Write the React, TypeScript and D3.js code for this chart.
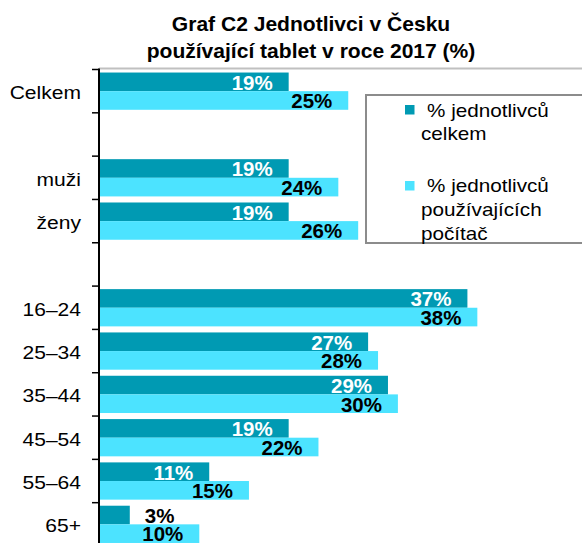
import React from 'react';
import * as d3 from 'd3';

// categories (blank entries are the gaps between the groups)
const categories = ['Celkem', '', 'muži', 'ženy', ' ', '16–24', '25–34', '35–44', '45–54', '55–64', '65+'];
const celkem = [19, null, 19, 19, null, 37, 27, 29, 19, 11, 3];
const pocitac = [25, null, 24, 26, null, 38, 28, 30, 22, 15, 10];
const seriesNames = ['% jednotlivců celkem', '% jednotlivců používajících počítač'];
const titleLines = ['Graf C2 Jednotlivci v Česku', 'používající tablet v roce 2017 (%)'];

const width = 582;
const height = 543;
const DARK = '#009ab3';
const LIGHT = '#4ce3ff';
const FONT = '"Liberation Sans", Arial, sans-serif';

// stretched text, like the reference
function SText({ x, y, sx = 1.12, anchor = 'start', size, weight = 'normal', fill = '#000', children }: any) {
  return (
    <text
      transform={`translate(${x},${y}) scale(${sx},1)`}
      textAnchor={anchor}
      fontSize={size}
      fontWeight={weight}
      fill={fill}
      fontFamily={FONT}
    >
      {children}
    </text>
  );
}

export default function App() {
  const x0 = 100;
  const xScale = d3.scaleLinear().domain([0, 50]).range([x0, x0 + 496.5]);

  const yScale = d3
    .scaleBand<number>()
    .domain(d3.range(categories.length))
    .range([69.5, 546])
    .paddingInner(0.14)
    .paddingOuter(0.07);

  const sub = d3
    .scaleBand<number>()
    .domain([0, 1])
    .range([0, yScale.bandwidth()]);

  const step = yScale.step();
  const tickYs = d3.range(categories.length + 1).map(i => 69.5 + i * step);

  const series = [celkem, pocitac];

  return (
    <svg
      width={width}
      height={height}
      style={{ position: 'absolute', left: 0, top: 0, background: '#fff' }}
    >
      {/* title */}
      {titleLines.map((t, i) => (
        <SText key={i} x={311} y={31 + i * 26.5} anchor="middle" size={19.5} weight="bold" sx={1.08}>
          {t}
        </SText>
      ))}

      {/* plot area top border */}
      <line x1={99} x2={width} y1={68.5} y2={68.5} stroke="#c0c0c0" strokeWidth={2} />

      {/* bars */}
      {series.map((vals, s) =>
        vals.map((v, i) =>
          v == null ? null : (
            <rect
              key={`${s}-${i}`}
              x={xScale(0)}
              y={(yScale(i) as number) + (sub(s) as number)}
              width={xScale(v) - xScale(0)}
              height={sub.bandwidth()}
              fill={s === 0 ? DARK : LIGHT}
            />
          )
        )
      )}

      {/* value labels */}
      {series.map((vals, s) =>
        vals.map((v, i) => {
          if (v == null) return null;
          const yb = (yScale(i) as number) + (sub(s) as number) + sub.bandwidth() - 1.5;
          const outside = v < 6;
          return (
            <SText
              key={`l${s}-${i}`}
              x={outside ? xScale(v) + 15 : xScale(v) - 16}
              y={yb}
              anchor={outside ? 'start' : 'end'}
              size={19.5}
              weight="bold"
              sx={1.05}
              fill={s === 0 && !outside ? '#fff' : '#000'}
            >
              {`${v}%`}
            </SText>
          );
        })
      )}

      {/* y axis */}
      <line x1={99} x2={99} y1={68.5} y2={height} stroke="#000" strokeWidth={2} />
      {tickYs.map((ty, i) => (
        <line key={i} x1={92} x2={99} y1={ty} y2={ty} stroke="#000" strokeWidth={1.5} />
      ))}
      {categories.map((c, i) => (
        <SText
          key={`c${i}`}
          x={81}
          y={(yScale(i) as number) - (step * 0.14) / 2 + step / 2 + 7.8}
          anchor="end"
          size={18.3}
          sx={1.15}
        >
          {c.trim()}
        </SText>
      ))}

      {/* legend */}
      <rect x={366} y={95} width={240} height={148} fill="#fff" stroke="#8c8c8c" strokeWidth={2} />
      <rect x={405} y={105} width={9.5} height={9.5} fill={DARK} />
      <SText x={427} y={117} size={18} sx={1.15}>{seriesNames[0].slice(0, 13)}</SText>
      <SText x={421} y={140} size={18} sx={1.15}>{seriesNames[0].slice(14)}</SText>
      <rect x={405} y={181} width={9.5} height={9.5} fill={LIGHT} />
      <SText x={427} y={192} size={18} sx={1.15}>{seriesNames[1].slice(0, 13)}</SText>
      <SText x={421} y={216} size={18} sx={1.15}>{seriesNames[1].slice(14, 27)}</SText>
      <SText x={421} y={240} size={18} sx={1.15}>{seriesNames[1].slice(28)}</SText>
    </svg>
  );
}
